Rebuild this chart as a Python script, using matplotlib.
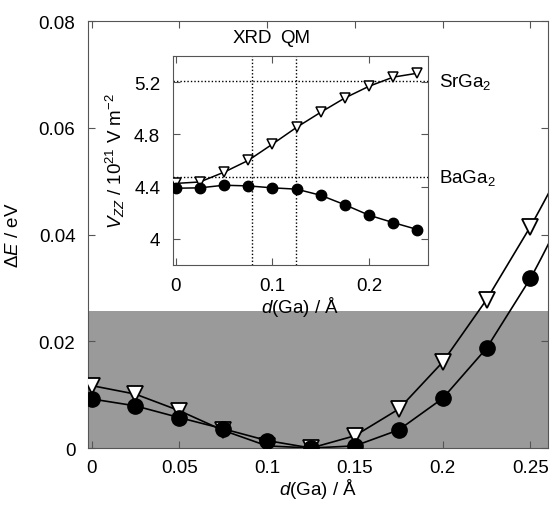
import numpy as np
import matplotlib
matplotlib.use("Agg")
import matplotlib.pyplot as plt
from matplotlib.ticker import FuncFormatter

plt.rcParams['font.family'] = ['Liberation Sans', 'DejaVu Sans']
plt.rcParams['mathtext.fontset'] = 'custom'
plt.rcParams['mathtext.rm'] = 'Liberation Sans'
plt.rcParams['mathtext.it'] = 'Liberation Sans:italic'
plt.rcParams['font.size'] = 13.5

# displacement of Ga (Angstrom)
d_ga = [0, 0.025, 0.05, 0.075, 0.1, 0.125, 0.15, 0.175, 0.2, 0.225, 0.25]

# energy relative to minimum (eV)
de_ba = [0.0092, 0.0079, 0.0057, 0.0036, 0.0014, 0.0, 0.0004, 0.0034, 0.0093, 0.0187, 0.0318]
de_sr = [0.0117, 0.0101, 0.0070, 0.0033, 0.0004, 0.0, 0.0023, 0.0073, 0.0161, 0.0278, 0.0415]

# inset: Vzz (10^21 V m^-2)
vzz_ba = [4.387, 4.39, 4.41, 4.405, 4.39, 4.38, 4.333, 4.26, 4.18, 4.123, 4.07]
vzz_sr = [4.424, 4.435, 4.51, 4.60, 4.725, 4.854, 4.97, 5.08, 5.17, 5.24, 5.27]

vzz_exp_sr = 5.21
vzz_exp_ba = 4.47
d_xrd = 0.079
d_qm = 0.124
kT = 0.0257

fmt = FuncFormatter(lambda v, p: '%g' % round(v, 4))
frame_col = '#555555'

fig = plt.figure(figsize=(5.51, 5.06), dpi=100)
ax = fig.add_axes([0.1597, 0.1126, 0.8349, 0.8439])

ax.axhspan(0, kT, color='#9a9a9a', lw=0, zorder=0)

x_ext = np.linspace(d_ga[-1], 0.262, 20)
for y, mk in [(de_sr, 'v'), (de_ba, 'o')]:
    ax.plot(d_ga, y, color='black', lw=1.2, zorder=2)
    # continue the curve past the last point to the frame
    p = np.polyfit(d_ga[-3:], y[-3:], 2)
    ax.plot(x_ext, np.polyval(p, x_ext), color='black', lw=1.2, zorder=2)
    if mk == 'v':
        ax.plot(d_ga, y, ls='none', marker='v', ms=11, mfc='white', mec='black', mew=1.3, zorder=3)
    else:
        ax.plot(d_ga, y, ls='none', marker='o', ms=11, mfc='black', mec='black', zorder=3)

ax.set_xlim(-0.002, 0.26)
ax.set_ylim(0, 0.08)
ax.set_xticks([0, 0.05, 0.1, 0.15, 0.2, 0.25])
ax.set_yticks([0, 0.02, 0.04, 0.06, 0.08])
ax.xaxis.set_major_formatter(fmt)
ax.yaxis.set_major_formatter(fmt)
ax.tick_params(direction='in', top=True, right=True, length=5, color=frame_col)
ax.tick_params(axis='x', pad=8)
ax.tick_params(axis='y', pad=9)
for s in ax.spines.values():
    s.set_color(frame_col)
ax.set_xlabel(r'$d$(Ga) / Å', labelpad=0)
ax.set_ylabel(r'$\Delta E$ / eV', labelpad=12)

# inset
ins = fig.add_axes([0.3134, 0.4749, 0.4628, 0.4119])
ins.plot(d_ga, vzz_sr, color='black', lw=1.1, marker='v', ms=7.5, mfc='white', mec='black', mew=1.1, zorder=3)
ins.plot(d_ga, vzz_ba, color='black', lw=1.1, marker='o', ms=7.5, mfc='black', mec='black', zorder=3)
for h in [vzz_exp_sr, vzz_exp_ba]:
    ins.axhline(h, color='black', lw=1.0, ls=(0, (1, 1.5)), zorder=1)
for v in [d_xrd, d_qm]:
    ins.axvline(v, color='black', lw=1.0, ls=(0, (1, 1.5)), zorder=1)
ins.set_xlim(-0.003, 0.2606)
ins.set_ylim(3.8, 5.4)
ins.set_xticks([0, 0.1, 0.2])
ins.set_yticks([4, 4.4, 4.8, 5.2])
ins.xaxis.set_major_formatter(fmt)
ins.yaxis.set_major_formatter(fmt)
ins.tick_params(direction='in', top=True, right=True, length=5, color=frame_col, pad=9)
for s in ins.spines.values():
    s.set_color(frame_col)
ins.set_xlabel(r'$d$(Ga) / Å', labelpad=0)
ins.set_ylabel(r'$V_{ZZ}$ / 10$^{21}$ V m$^{-2}$', labelpad=5)

ins.text(d_xrd, 1.09, 'XRD', transform=ins.get_xaxis_transform(), ha='center', va='center')
ins.text(d_qm, 1.09, 'QM', transform=ins.get_xaxis_transform(), ha='center', va='center')
ins.text(0.272, vzz_exp_sr, r'SrGa$_2$', ha='left', va='center', clip_on=False)
ins.text(0.272, vzz_exp_ba, r'BaGa$_2$', ha='left', va='center', clip_on=False)

fig.savefig('out.png', dpi=100)
